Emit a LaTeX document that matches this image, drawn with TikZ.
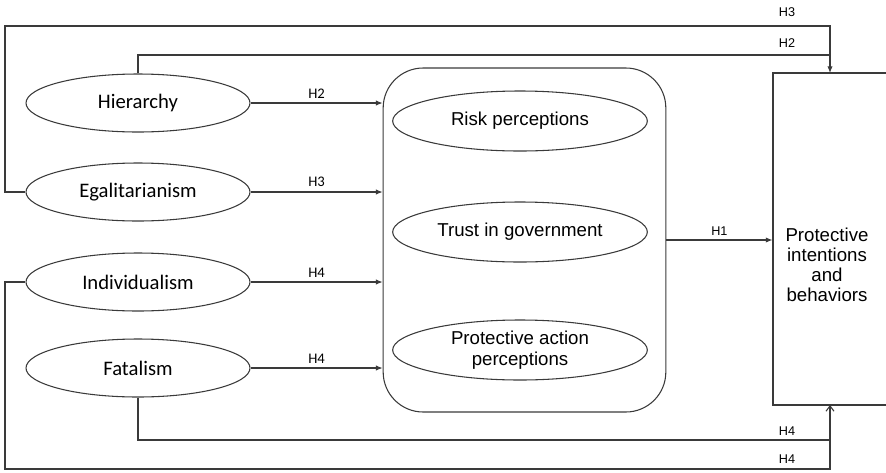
\documentclass[tikz,border=0pt]{standalone}
\usepackage{fontspec}
\usepackage{tikz}
\usetikzlibrary{shapes.geometric}
\usetikzlibrary{arrows.meta}
\usetikzlibrary{calc}
\newfontfamily\calib{Carlito}
\newfontfamily\arial{Liberation Sans}
\definecolor{linegray}{HTML}{3A3A3A}
\tikzset{
  culture/.style={draw=linegray,ellipse,line width=0.8pt,inner sep=0pt,
    minimum width=168pt,minimum height=43.5pt,font=\calib\fontsize{15.5}{18}\selectfont},
  mediator/.style={draw=linegray,ellipse,line width=0.8pt,inner sep=0pt,align=center,
    minimum width=191pt,minimum height=45pt,font=\arial\fontsize{14}{15.5}\selectfont},
  hyp/.style={font=\calib\fontsize{11}{13}\selectfont},
  hypr/.style={font=\arial\fontsize{9.5}{11}\selectfont},
  link/.style={draw=linegray,line width=0.8pt},
  arr/.style={link,-{Latex[length=5pt,width=4pt]}},
  arrup/.style={link,-{Straight Barb[length=4pt,width=6pt]}}
}
\begin{document}
\begin{tikzpicture}[x=0.75pt,y=-0.75pt]
\useasboundingbox (0,0) rectangle (886,472);
\clip (0,0) rectangle (886,472);
% left side: the four cultural types
\node[culture] (hier) at (138,103) {Hierarchy};
\node[culture] (egal) at (138,192) {Egalitarianism};
\node[culture] (indiv) at (138,282) {Individualism};
\node[culture] (fatal) at (138,368) {Fatalism};
% middle panel
\node[draw=linegray,line width=0.8pt,rounded corners=30pt,
  minimum width=212pt,minimum height=258pt] (panel) at (524.5,240) {};
\node[mediator] (risk) at (520,121) {Risk perceptions};
\node[mediator] (trust) at (520,232) {Trust in government};
\node[mediator] (pap) at (520,350) {Protective action\\perceptions};
% outcome box (runs off the right edge)
\node[draw=linegray,line width=0.8pt,minimum width=96pt,minimum height=249pt] (outcome) at (837,239) {};
\node[align=center,font=\arial\fontsize{14}{15}\selectfont] (outtext) at (827,265)
  {Protective\\intentions\\and\\behaviors};
% direct paths into the panel
\draw[arr] (hier.east) -- (hier.east -| panel.west) node[midway,above,hyp] {H2};
\draw[arr] (egal.east) -- (egal.east -| panel.west) node[midway,above,hyp] {H3};
\draw[arr] (indiv.east) -- (indiv.east -| panel.west) node[midway,above,hyp] {H4};
\draw[arr] (fatal.east) -- (fatal.east -| panel.west) node[midway,above,hyp] {H4};
\draw[arr] (panel.east) -- (panel.east -| outcome.west) node[midway,above,hypr] {H1};
% routes over the top
\coordinate (topin) at (830,73);
\coordinate (bottomin) at (830,405);
\draw[link] (egal.west) -- (5,192) -- (5,26) -- (830,26) -- (830,55);
\draw[arr] (hier.north) -- (138,55) -- (830,55) -- (topin);
\node[hypr] (lhthree) at (787,12) {H3};
\node[hypr] (lhtwo) at (787,43) {H2};
% routes along the bottom
\draw[link] (indiv.west) -- (5,282) -- (5,469) -- (830,469) -- (830,440);
\draw[arrup] (fatal.south) -- (138,440) -- (830,440) -- (bottomin);
\node[hypr] (lhfoura) at (787,431) {H4};
\node[hypr] (lhfourb) at (787,459) {H4};
\end{tikzpicture}
\end{document}
